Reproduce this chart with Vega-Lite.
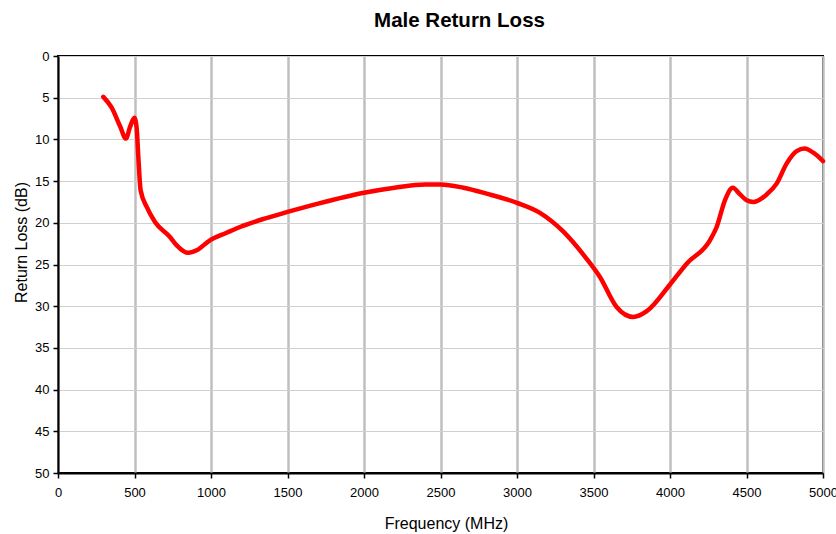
{
  "$schema": "https://vega.github.io/schema/vega-lite/v6.json",
  "width": 765,
  "height": 417,
  "autosize": {"type": "none"},
  "padding": {"left": 58, "top": 56, "right": 13, "bottom": 61},
  "background": "white",
  "title": {"text": "Male Return Loss", "font": "Liberation Sans", "fontSize": 20.5, "fontWeight": "bold", "color": "black", "anchor": "middle", "dx": 19, "offset": 19},
  "config": {
    "view": {"stroke": "black", "strokeWidth": 2},
    "font": "Liberation Sans"
  },
  "data": {"values": [
    {"f": 296, "rl": 4.9},
    {"f": 351, "rl": 6.2},
    {"f": 405, "rl": 8.4},
    {"f": 444, "rl": 9.9},
    {"f": 471, "rl": 8.5},
    {"f": 499, "rl": 7.4},
    {"f": 514, "rl": 8.6},
    {"f": 525, "rl": 12.1},
    {"f": 540, "rl": 16.1},
    {"f": 580, "rl": 18.1},
    {"f": 634, "rl": 19.9},
    {"f": 732, "rl": 21.7},
    {"f": 776, "rl": 22.7},
    {"f": 852, "rl": 23.6},
    {"f": 906, "rl": 23.3},
    {"f": 993, "rl": 22.1},
    {"f": 1102, "rl": 21.2},
    {"f": 1190, "rl": 20.5},
    {"f": 1350, "rl": 19.5},
    {"f": 1500, "rl": 18.7},
    {"f": 1700, "rl": 17.7},
    {"f": 2000, "rl": 16.4},
    {"f": 2200, "rl": 15.8},
    {"f": 2400, "rl": 15.4},
    {"f": 2500, "rl": 15.4},
    {"f": 2650, "rl": 15.8},
    {"f": 2800, "rl": 16.5},
    {"f": 3000, "rl": 17.6},
    {"f": 3150, "rl": 18.8},
    {"f": 3300, "rl": 21.0},
    {"f": 3450, "rl": 24.2},
    {"f": 3542, "rl": 26.5},
    {"f": 3651, "rl": 30.1},
    {"f": 3760, "rl": 31.3},
    {"f": 3848, "rl": 30.6},
    {"f": 4000, "rl": 27.4},
    {"f": 4109, "rl": 24.9},
    {"f": 4261, "rl": 22.1},
    {"f": 4305, "rl": 20.5},
    {"f": 4359, "rl": 17.3},
    {"f": 4410, "rl": 15.8},
    {"f": 4458, "rl": 16.6},
    {"f": 4501, "rl": 17.3},
    {"f": 4545, "rl": 17.5},
    {"f": 4632, "rl": 16.6},
    {"f": 4697, "rl": 15.3},
    {"f": 4762, "rl": 12.9},
    {"f": 4828, "rl": 11.4},
    {"f": 4880, "rl": 11.1},
    {"f": 4937, "rl": 11.6},
    {"f": 5000, "rl": 12.6}
  ]},
  "layer": [
    {
      "mark": {"type": "line", "color": "#FF0000", "strokeWidth": 4.5, "interpolate": "monotone", "strokeCap": "round", "strokeJoin": "round"},
      "encoding": {
        "x": {"field": "f", "type": "quantitative", "scale": {"domain": [0, 5000], "nice": false},
          "axis": {"title": "Frequency (MHz)", "format": "d", "labelFlush": false, "labelOverlap": false, "values": [0,500,1000,1500,2000,2500,3000,3500,4000,4500,5000], "grid": true, "gridColor": "#BFBFBF", "gridWidth": 2.5,
            "domainColor": "black", "domainWidth": 2, "tickColor": "black", "tickSize": 5, "tickWidth": 1.5,
            "labelFont": "Liberation Sans", "labelFontSize": 13, "labelColor": "black", "labelPadding": 8,
            "titleFont": "Liberation Sans", "titleFontSize": 16, "titleFontWeight": "normal", "titleColor": "black", "titlePadding": 16, "titleX": 388}},
        "y": {"field": "rl", "type": "quantitative", "scale": {"domain": [0, 50], "reverse": true, "nice": false},
          "axis": {"title": "Return Loss (dB)", "labelFlush": false, "values": [0,5,10,15,20,25,30,35,40,45,50], "grid": true, "gridColor": "#D0D0D0", "gridWidth": 1.2,
            "domainColor": "black", "domainWidth": 2, "tickColor": "black", "tickSize": 5, "tickWidth": 1.5,
            "labelFont": "Liberation Sans", "labelFontSize": 13, "labelColor": "black", "labelPadding": 4,
            "titleFont": "Liberation Sans", "titleFontSize": 16, "titleFontWeight": "normal", "titleColor": "black", "titleX": -37, "titleY": 186, "titleAlign": "center", "titleBaseline": "middle", "titleAngle": -90}}
      }
    }
  ]
}
